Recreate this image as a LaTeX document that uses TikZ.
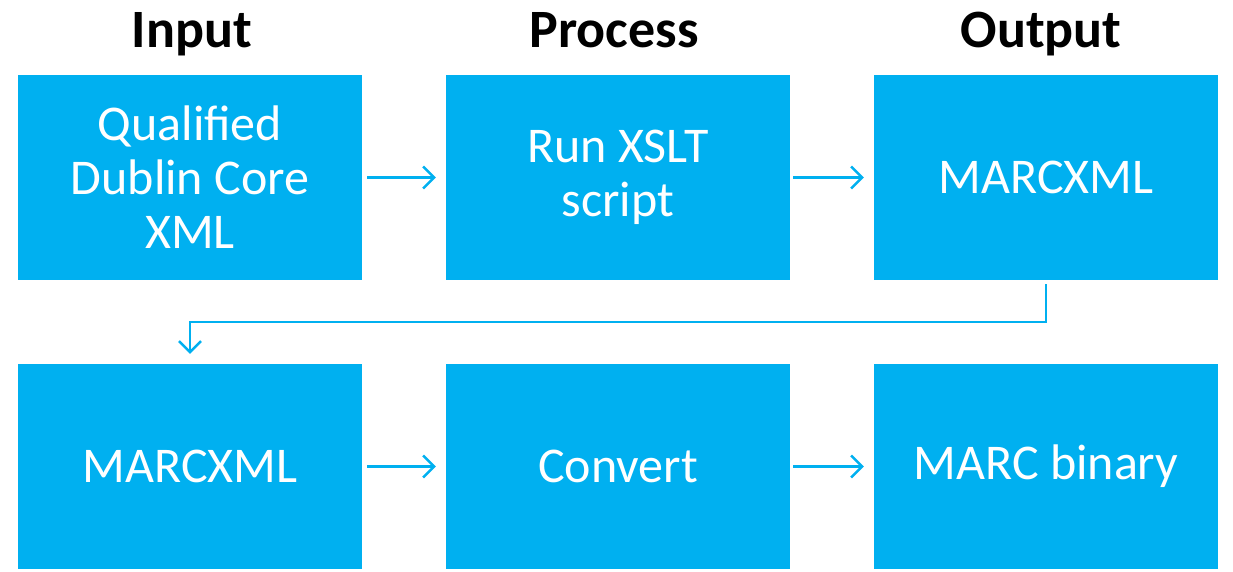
\documentclass[tikz,border=0pt]{standalone}
\usepackage{fontspec}
\setmainfont{Carlito}
\usetikzlibrary{arrows.meta}
\definecolor{boxblue}{HTML}{00B0F0}
\tikzset{
  box/.style={fill=boxblue, draw=none, minimum width=344pt, minimum height=205pt, inner sep=0pt, align=center, text=white, font=\fontsize{50}{54}\selectfont},
  title/.style={font=\bfseries\fontsize{54}{60}\selectfont, text=black, inner sep=0pt, anchor=base},
  arr/.style={draw=boxblue, line width=2.5pt, -{Straight Barb[length=11pt,width=22pt]}}
}
\begin{document}
\begin{tikzpicture}[x=1pt,y=-1pt]
\useasboundingbox (0,0) rectangle (1233,571);
\node[title] (t1) at (192,47) {Input};
\node[title] (t2) at (614,47) {Process};
\node[title] (t3) at (1041,47) {Output};
\node[box] (b1) at (190,177.5) {Qualified\\Dublin Core\\XML};
\node[box] (b2) at (618,177.5) {Run XSLT\\script};
\node[box] (b3) at (1046,177.5) {MARCXML};
\node[box] (b4) at (190,466.5) {MARCXML};
\node[box] (b5) at (618,466.5) {Convert};
\node[box] (b6) at (1046,466.5) {MARC binary};
\draw[arr, shorten <=5pt, shorten >=10pt] (b1.east) -- (b2.west);
\draw[arr, shorten <=3pt, shorten >=10pt] (b2.east) -- (b3.west);
\draw[arr, shorten <=5pt, shorten >=10pt] (b4.east) -- (b5.west);
\draw[arr, shorten <=3pt, shorten >=10pt] (b5.east) -- (b6.west);
\coordinate (m) at (1046,322);
\draw[arr, shorten <=4pt, shorten >=10pt] (b3.south) -- (m) -| (b4.north);
\end{tikzpicture}
\end{document}
